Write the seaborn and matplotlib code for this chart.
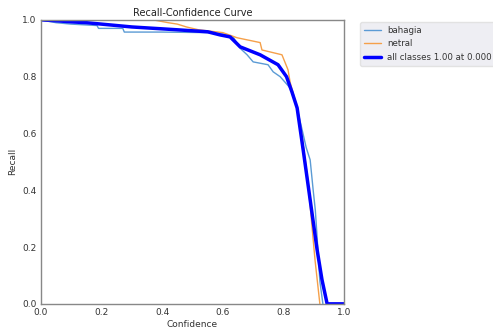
import matplotlib
matplotlib.use("Agg")
import matplotlib.pyplot as plt
import pandas as pd
import seaborn as sns

# values
bahagia_conf = [0.0, 0.05, 0.10, 0.185, 0.19, 0.27, 0.275, 0.40, 0.55, 0.60, 0.634, 0.657, 0.68, 0.70,
                0.749, 0.766, 0.789, 0.822, 0.84, 0.86, 0.875, 0.888, 0.898, 0.905, 0.91, 0.92, 0.93]
bahagia_recall = [1.0, 0.99, 0.985, 0.98, 0.97, 0.97, 0.957, 0.957, 0.955, 0.95, 0.94, 0.90, 0.877, 0.852,
                  0.842, 0.817, 0.80, 0.76, 0.71, 0.62, 0.55, 0.507, 0.40, 0.33, 0.25, 0.08, 0.0]

netral_conf = [0.0, 0.30, 0.37, 0.42, 0.45, 0.48, 0.52, 0.56, 0.60, 0.647, 0.723, 0.729, 0.795,
               0.815, 0.822, 0.84, 0.86, 0.88, 0.904, 0.92]
netral_recall = [1.0, 1.0, 1.0, 0.99, 0.985, 0.975, 0.965, 0.96, 0.955, 0.937, 0.92, 0.894, 0.877,
                 0.824, 0.78, 0.71, 0.60, 0.44, 0.155, 0.0]

all_conf = [0.0, 0.05, 0.10, 0.15, 0.20, 0.30, 0.45, 0.55, 0.591, 0.624, 0.657, 0.723, 0.782,
            0.81, 0.828, 0.845, 0.865, 0.888, 0.911, 0.927, 0.944, 1.0]
all_recall = [1.0, 0.997, 0.993, 0.99, 0.985, 0.975, 0.965, 0.958, 0.947, 0.94, 0.905, 0.877, 0.842,
              0.80, 0.746, 0.69, 0.542, 0.366, 0.19, 0.085, 0.0, 0.0]

df_b = pd.DataFrame({"Confidence": bahagia_conf, "Recall": bahagia_recall})
df_n = pd.DataFrame({"Confidence": netral_conf, "Recall": netral_recall})
df_a = pd.DataFrame({"Confidence": all_conf, "Recall": all_recall})

sns.set_style("white")
plt.rcParams["font.family"] = ["DejaVu Sans"]

fig, ax = plt.subplots(figsize=(4.93, 3.31), dpi=100)
sns.lineplot(data=df_b, x="Confidence", y="Recall", ax=ax, color="#5b9bd5", linewidth=1,
             label="bahagia", sort=False, estimator=None)
sns.lineplot(data=df_n, x="Confidence", y="Recall", ax=ax, color="#f5a04a", linewidth=1,
             label="netral", sort=False, estimator=None)
sns.lineplot(data=df_a, x="Confidence", y="Recall", ax=ax, color="blue", linewidth=2.5,
             label="all classes 1.00 at 0.000", sort=False, estimator=None)

ax.set_xlim(0, 1)
ax.set_ylim(0, 1)
ax.set_xticks([0, 0.2, 0.4, 0.6, 0.8, 1.0])
ax.set_yticks([0, 0.2, 0.4, 0.6, 0.8, 1.0])
ax.tick_params(labelsize=6.5, colors="#333333", length=0, pad=3)
ax.set_xlabel("Confidence", fontsize=6.5, color="#333333", labelpad=2)
ax.set_ylabel("Recall", fontsize=6.5, color="#333333", labelpad=4)
ax.set_title("Recall-Confidence Curve", fontsize=7, color="#222222", pad=3)
for s in ax.spines.values():
    s.set_color("#888888")
    s.set_linewidth(1)

leg = ax.legend(bbox_to_anchor=(1.053, 0.993), loc="upper left", borderaxespad=0,
                fontsize=6.2, frameon=True, facecolor="#eaeaf0", edgecolor="#dddddd",
                borderpad=0.5, handlelength=1.9, handletextpad=0.7, labelspacing=0.5)
for t in leg.get_texts():
    t.set_color("#333333")

fig.subplots_adjust(left=0.083, right=0.698, top=0.94, bottom=0.082)
fig.savefig("out.png", dpi=100)
